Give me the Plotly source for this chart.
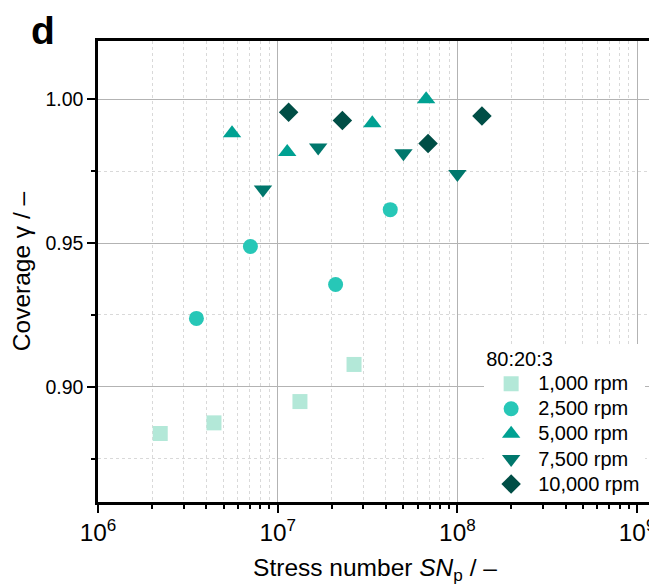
import plotly.graph_objects as go

# ---- data ----
sn_1000 = [2.22e6, 4.42e6, 1.33e7, 2.66e7]
cov_1000 = [0.8838, 0.8875, 0.8949, 0.9078]

sn_2500 = [3.53e6, 7.05e6, 2.10e7, 4.23e7]
cov_2500 = [0.9238, 0.9488, 0.9356, 0.9616]

sn_5000 = [5.57e6, 1.13e7, 3.36e7, 6.70e7]
cov_5000 = [0.9881, 0.9816, 0.9916, 1.0000]

sn_7500 = [8.28e6, 1.68e7, 5.01e7, 1.00e8]
cov_7500 = [0.9686, 0.9832, 0.9812, 0.9740]

sn_10000 = [1.15e7, 2.29e7, 6.87e7, 1.37e8]
cov_10000 = [0.9954, 0.9926, 0.9846, 0.9941]

series_names = ["1,000 rpm", "2,500 rpm", "5,000 rpm", "7,500 rpm", "10,000 rpm"]
legend_title = "80:20:3"
series_x = [sn_1000, sn_2500, sn_5000, sn_7500, sn_10000]
series_y = [cov_1000, cov_2500, cov_5000, cov_7500, cov_10000]
colors = ["#b3e8d8", "#27c7b7", "#00a192", "#00776c", "#004e46"]
symbols = ["square", "circle", "triangle-up", "triangle-down", "diamond"]
sizes = [15, 15, 16, 16, 15]

FONT = "Liberation Sans, Arial, Helvetica, sans-serif"
# the page body has an 8px default margin: the figure is drawn 8px in from the top-left
W, H, OFF = 657, 585, 8


def big(t):
    return "<span style='font-size:20px'>" + t + "</span>"


fig = go.Figure()
for name, xs, ys, c, s, sz in zip(series_names, series_x, series_y, colors, symbols, sizes):
    fig.add_trace(go.Scatter(
        x=xs, y=ys, mode="markers", name=big(name),
        marker=dict(symbol=s, size=sz, color=c, line=dict(width=0)),
    ))

fig.update_layout(
    width=W - OFF, height=H - OFF,
    margin=dict(l=98 - OFF, r=5, t=41 - OFF, b=83, autoexpand=False),
    paper_bgcolor="white", plot_bgcolor="white",
    font=dict(family=FONT, size=19.5, color="black"),
    showlegend=True,
    legend=dict(
        title=dict(text=big(legend_title), font=dict(size=17)),
        x=0.697, xanchor="left", y=0.0, yanchor="bottom",
        bgcolor="white", borderwidth=0, itemwidth=44,
        font=dict(size=17), tracegroupgap=0,
    ),
    xaxis=dict(
        type="log", range=[6, 9.083], dtick=1, automargin=False,
        exponentformat="power", showexponent="all",
        showline=True, linecolor="black", linewidth=2.5, mirror=True,
        ticks="outside", ticklen=8, tickwidth=2, tickcolor="black",
        showgrid=True, gridcolor="#b3b3b3", gridwidth=1.2,
        zeroline=False,
        minor=dict(ticks="outside", ticklen=4, tickwidth=1.5, tickcolor="black",
                   showgrid=True, gridcolor="#d9d9d9", griddash="dot", gridwidth=1,
                   dtick="D1"),
        title=dict(text="Stress number <i>SN</i><sub>p</sub> / –", font=dict(size=24.5), standoff=14),
        tickfont=dict(size=19.5),
    ),
    yaxis=dict(
        range=[0.86, 1.0202], tick0=0.9, dtick=0.05, tickformat=".2f", automargin=False,
        showline=True, linecolor="black", linewidth=2.5, mirror=True,
        ticks="outside", ticklen=8, tickwidth=2, tickcolor="black",
        showgrid=True, gridcolor="#b3b3b3", gridwidth=1.2,
        zeroline=False,
        minor=dict(ticks="outside", ticklen=4, tickwidth=1.5, tickcolor="black",
                   showgrid=True, gridcolor="#d9d9d9", griddash="dot", gridwidth=1,
                   dtick=0.025, tick0=0.875),
        title=dict(text="Coverage γ / –", font=dict(size=24.5), standoff=9),
        tickfont=dict(size=19.5),
    ),
    annotations=[dict(
        text="<b>d</b>", xref="paper", yref="paper",
        x=-0.124, xanchor="left", y=0.9725, yanchor="bottom",
        showarrow=False, font=dict(size=39, family=FONT, color="black"),
    )],
)

fig.write_html("out.html")
